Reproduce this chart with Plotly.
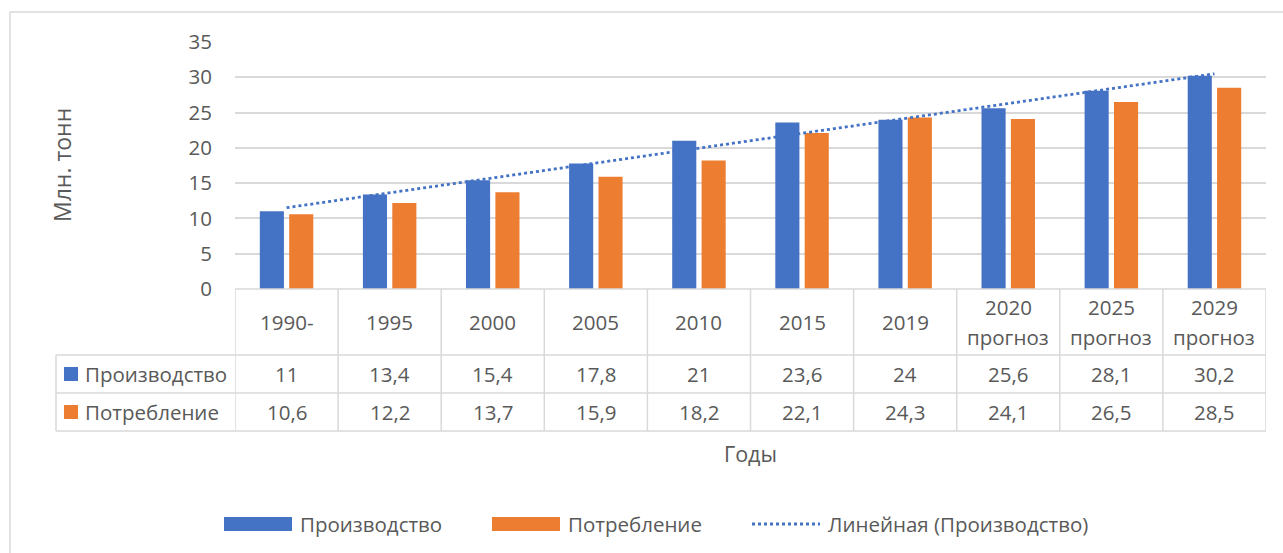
import plotly.graph_objects as go
import numpy as np

categories = ["1990-", "1995", "2000", "2005", "2010", "2015", "2019",
              "2020 прогноз", "2025 прогноз", "2029 прогноз"]
production = [11, 13.4, 15.4, 17.8, 21, 23.6, 24, 25.6, 28.1, 30.2]
consumption = [10.6, 12.2, 13.7, 15.9, 18.2, 22.1, 24.3, 24.1, 26.5, 28.5]
series_names = ["Производство", "Потребление"]
trend_name = "Линейная (Производство)"
y_title = "Млн. тонн"
x_title = "Годы"

BLUE = "#4472C4"
ORANGE = "#ED7D31"
GRID = "#D9D9D9"
TXT = "#595959"
FONT = "Open Sans"
FS = 20.5

W, H = 1283, 553
L, R, T, B = 235, 1266, 42, 289

def px(x):
    return (x - L) / (R - L)

def py(y):
    return (B - y) / (B - T)

# linear trendline (least squares over category index), as Excel does
idx = np.arange(1, len(production) + 1)
k, b0 = np.polyfit(idx, production, 1)
trend = k * idx + b0

fig = go.Figure()
fig.add_trace(go.Bar(x=categories, y=production, name=series_names[0],
                     marker=dict(color=BLUE, line=dict(width=0))))
fig.add_trace(go.Bar(x=categories, y=consumption, name=series_names[1],
                     marker=dict(color=ORANGE, line=dict(width=0))))
fig.add_trace(go.Scatter(x=categories, y=trend, name=trend_name, mode="lines",
                         line=dict(color=BLUE, width=2.8, dash="dot")))

shapes = []
ann = []
line_style = dict(color=GRID, width=1.5)

# outer chart border
shapes.append(dict(type="rect", xref="paper", yref="paper",
                   x0=px(10), x1=px(1300), y0=py(12), y1=py(570),
                   line=dict(color=GRID, width=1.5), layer="below"))

# table horizontal lines
y_rows = [289, 355, 393, 431]
shapes.append(dict(type="line", xref="paper", yref="paper", x0=0, x1=1,
                   y0=py(289), y1=py(289), line=line_style))
for yy in y_rows[1:]:
    shapes.append(dict(type="line", xref="paper", yref="paper", x0=px(56), x1=1,
                       y0=py(yy), y1=py(yy), line=line_style))
# table vertical lines
shapes.append(dict(type="line", xref="paper", yref="paper", x0=px(56), x1=px(56),
                   y0=py(355), y1=py(431), line=line_style))
n = len(categories)
for i in range(n + 1):
    shapes.append(dict(type="line", xref="x", yref="paper", x0=i - 0.5, x1=i - 0.5,
                       y0=py(289), y1=py(431), line=line_style))

def txt(x, y, text, xref="paper", anchor="center", size=FS, angle=0):
    ann.append(dict(x=x, y=y, xref=xref, yref="paper", text=text, showarrow=False,
                    xanchor=anchor, yanchor="middle", textangle=angle,
                    font=dict(size=size, color=TXT, family=FONT)))

# header cells
for i, c in enumerate(categories):
    parts = c.split(" ")
    if len(parts) == 1:
        txt(i, py(322), parts[0], xref="x")
    else:
        txt(i, py(307), parts[0], xref="x")
        txt(i, py(337), parts[1], xref="x")

def fmt(v):
    return f"{v:g}".replace(".", ",")

for vals, yc in [(production, 374), (consumption, 412)]:
    for i, v in enumerate(vals):
        txt(i, py(yc), fmt(v), xref="x")

# row labels with keys
for name, col, yc in [(series_names[0], BLUE, 374), (series_names[1], ORANGE, 412)]:
    shapes.append(dict(type="rect", xref="paper", yref="paper",
                       x0=px(64), x1=px(78), y0=py(yc - 7), y1=py(yc + 7),
                       fillcolor=col, line=dict(width=0)))
    txt(px(83), py(yc), name, anchor="left")

# axis titles
txt(px(750), py(453), x_title, size=FS + 1)
txt(px(62), py(165), y_title, size=FS + 2.5, angle=-90)

# legend (drawn)
ly = 524
shapes.append(dict(type="rect", xref="paper", yref="paper",
                   x0=px(224), x1=px(292), y0=py(ly - 7), y1=py(ly + 7),
                   fillcolor=BLUE, line=dict(width=0)))
txt(px(298), py(ly), series_names[0], anchor="left")
shapes.append(dict(type="rect", xref="paper", yref="paper",
                   x0=px(492), x1=px(560), y0=py(ly - 7), y1=py(ly + 7),
                   fillcolor=ORANGE, line=dict(width=0)))
txt(px(566), py(ly), series_names[1], anchor="left")
shapes.append(dict(type="line", xref="paper", yref="paper",
                   x0=px(752), x1=px(820), y0=py(ly), y1=py(ly),
                   line=dict(color=BLUE, width=2.8, dash="dot")))
txt(px(826), py(ly), trend_name, anchor="left")

fig.update_layout(
    width=W, height=H,
    margin=dict(l=L, r=W - R, t=T, b=H - B, pad=0),
    paper_bgcolor="white", plot_bgcolor="white",
    barmode="group", bargap=0.43, bargroupgap=0.18,
    showlegend=False,
    font=dict(family=FONT, size=FS, color=TXT),
    shapes=shapes, annotations=ann,
    xaxis=dict(showticklabels=False, showgrid=False, zeroline=False,
               showline=False, ticks="", range=[-0.5, n - 0.5]),
    yaxis=dict(range=[0, 35], dtick=5, showgrid=True, gridcolor=GRID, gridwidth=1.5,
               zeroline=False, showline=False, ticks="",
               ticklabelstandoff=22,
               tickfont=dict(size=FS, color=TXT, family=FONT)),
)

fig.write_html("out.html", config={"displayModeBar": False},
               post_script="document.body.style.margin='0';document.body.style.padding='0';")
